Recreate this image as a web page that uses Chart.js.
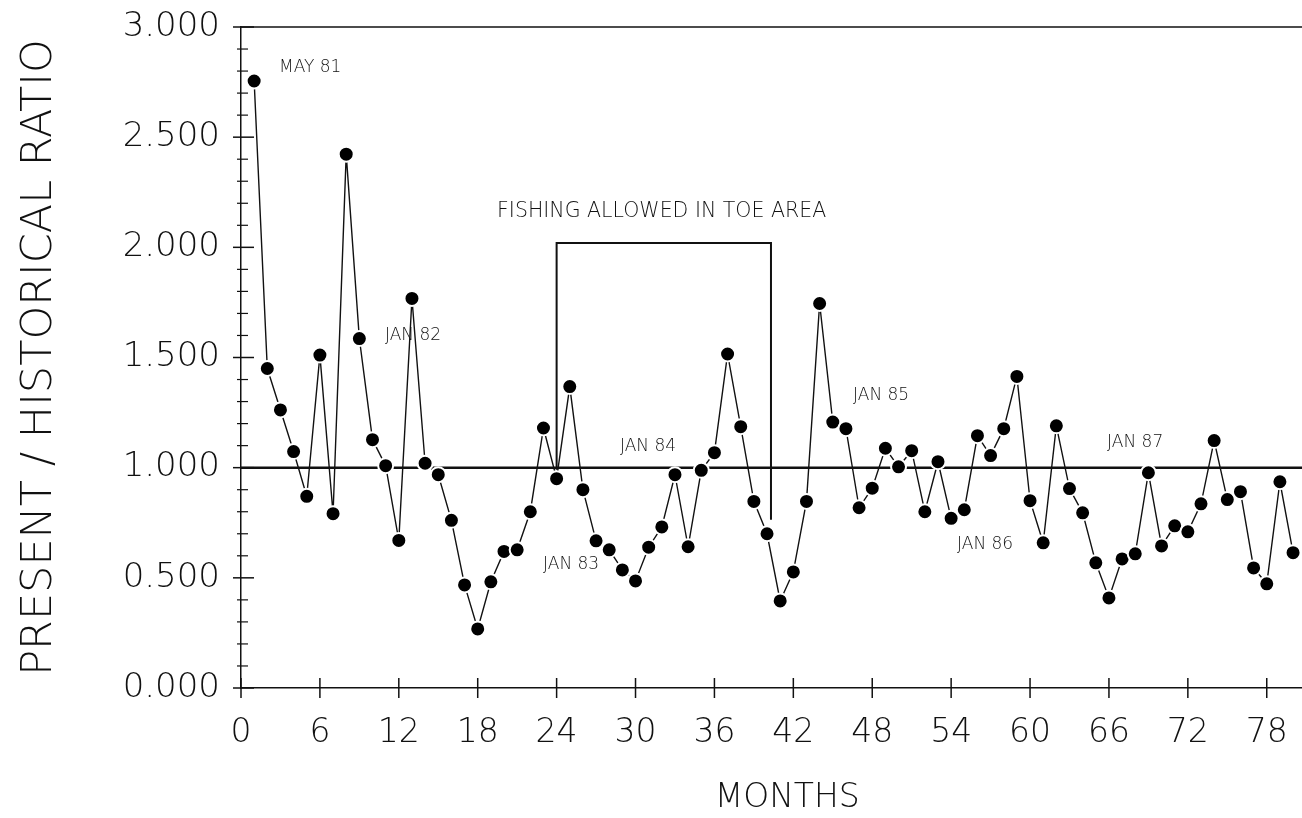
<!DOCTYPE html>
<html><head><meta charset="utf-8">
<script src="https://cdn.jsdelivr.net/npm/chart.js@4"></script>
<style>html,body{margin:0;padding:0;background:#fff;}#wrap{width:1302px;height:818px;}</style>
</head><body><div id="wrap"><canvas id="c" width="1302" height="818"></canvas></div>
<script>
// ---- data ----
const months = [1,2,3,4,5,6,7,8,9,10,11,12,13,14,15,16,17,18,19,20,21,22,23,24,25,26,27,28,29,30,31,32,33,34,35,36,37,38,39,40,41,42,43,44,45,46,47,48,49,50,51,52,53,54,55,56,57,58,59,60,61,62,63,64,65,66,67,68,69,70,71,72,73,74,75,76,77,78,79,80];
const ratios = [2.755,1.45,1.262,1.073,0.87,1.511,0.791,2.423,1.586,1.127,
  1.009,0.67,1.768,1.02,0.968,0.761,0.468,0.268,0.482,0.62,
  0.627,0.80,1.18,0.95,1.368,0.90,0.668,0.627,0.536,0.486,
  0.639,0.731,0.968,0.641,0.988,1.068,1.516,1.186,0.847,0.70,
  0.395,0.527,0.847,1.745,1.207,1.177,0.818,0.907,1.088,1.004,
  1.077,0.80,1.027,0.77,0.809,1.145,1.055,1.177,1.414,0.85,
  0.659,1.19,0.905,0.795,0.568,0.409,0.586,0.609,0.977,0.645,
  0.736,0.709,0.836,1.123,0.855,0.891,0.545,0.473,0.936,0.614];
const xTickValues = [0,6,12,18,24,30,36,42,48,54,60,66,72,78];
const yTickValues = [0,0.5,1,1.5,2,2.5,3];
const yMinorValues = [0.1,0.2,0.3,0.4,0.6,0.7,0.8,0.9,1.1,1.2,1.3,1.4,1.6,1.7,1.8,1.9,2.1,2.2,2.3,2.4,2.6,2.7,2.8,2.9];
const xMin = 0, xMax = 80.68, yMin = 0, yMax = 3;
const refLineX = [0, 80.68];
const refLineY = [1, 1];
const boxX = [24, 24, 40.3, 40.3];
const boxY = [0.99, 2.02, 2.02, 0.764];
const noteTexts = ['MAY 81','JAN 82','JAN 83','JAN 84','JAN 85','JAN 86','JAN 87','FISHING ALLOWED IN TOE AREA'];
const noteX = [2.89, 10.95, 22.97, 28.82, 46.54, 54.45, 65.86, 19.47];
const noteY = [2.815, 1.60, 0.559, 1.095, 1.327, 0.65, 1.114, 2.16];

const FONT = "'DejaVu Sans', 'Liberation Sans', sans-serif";
const INK = '#111';

const toPts = (xs, ys) => xs.map((x, i) => ({x: x, y: ys[i]}));

const extras = {
  id: 'extras',
  afterDatasetsDraw(chart) {
    const ctx = chart.ctx, xs = chart.scales.x, ys = chart.scales.y, a = chart.chartArea;
    ctx.save();
    ctx.strokeStyle = INK;
    // top frame line
    ctx.lineWidth = 1.5;
    ctx.beginPath(); ctx.moveTo(a.left, a.top); ctx.lineTo(a.right, a.top); ctx.stroke();
    // y ticks (crossing the axis)
    const x0 = xs.getPixelForValue(xMin);
    ctx.lineWidth = 1.5;
    yTickValues.forEach(v => { const p = ys.getPixelForValue(v); ctx.beginPath(); ctx.moveTo(x0 - 8, p); ctx.lineTo(x0 + 13, p); ctx.stroke(); });
    ctx.lineWidth = 1.2;
    yMinorValues.forEach(v => { const p = ys.getPixelForValue(v); ctx.beginPath(); ctx.moveTo(x0 - 4, p); ctx.lineTo(x0 + 7, p); ctx.stroke(); });
    // x ticks
    const y0 = ys.getPixelForValue(yMin);
    ctx.lineWidth = 1.5;
    xTickValues.forEach(v => { const p = xs.getPixelForValue(v); ctx.beginPath(); ctx.moveTo(p, y0 - 10); ctx.lineTo(p, y0 + 10); ctx.stroke(); });
    // notes
    ctx.fillStyle = INK;
    ctx.textBaseline = 'middle';
    ctx.textAlign = 'left';
    noteTexts.forEach((t, i) => {
      ctx.font = (i === 7 ? '200 20.5px ' : '200 17px ') + FONT;
      ctx.fillText(t, xs.getPixelForValue(noteX[i]), ys.getPixelForValue(noteY[i]));
    });
    ctx.restore();
  }
};

new Chart(document.getElementById('c'), {
  type: 'scatter',
  data: {
    datasets: [
      {
        data: toPts(months, ratios), showLine: true,
        borderColor: INK, borderWidth: 1.4,
        pointRadius: 7.5, pointBackgroundColor: '#000', pointBorderColor: '#fff', pointBorderWidth: 2,
        pointHoverRadius: 7.5, clip: false
      },
      { data: toPts(refLineX, refLineY), showLine: true, borderColor: INK, borderWidth: 2.5, pointRadius: 0 },
      { data: toPts(boxX, boxY), showLine: true, borderColor: INK, borderWidth: 2, pointRadius: 0 }
    ]
  },
  options: {
    responsive: false, animation: false,
    layout: { autoPadding: false, padding: { top: 27, right: 0, left: 0, bottom: 0 } },
    plugins: { legend: { display: false }, tooltip: { enabled: false } },
    scales: {
      x: {
        type: 'linear', min: xMin, max: xMax,
        grid: { display: false },
        border: { display: true, color: INK, width: 1.5 },
        afterBuildTicks: s => { s.ticks = xTickValues.map(v => ({value: v})); },
        afterFit: s => { s.height = 130; s.paddingLeft = 0; s.paddingRight = 0; },
        ticks: { color: INK, padding: 18, font: { family: FONT, size: 33, weight: '200' }, maxRotation: 0, autoSkip: false },
        title: { display: true, text: '   MONTHS', color: INK, font: { family: FONT, size: 33, weight: '200' }, padding: { top: 0, bottom: 0 } }
      },
      y: {
        type: 'linear', min: yMin, max: yMax,
        grid: { display: false },
        border: { display: true, color: INK, width: 1.5 },
        afterBuildTicks: s => { s.ticks = yTickValues.map(v => ({value: v})); },
        afterFit: s => { s.width = 241; s.paddingTop = 0; s.paddingBottom = 0; },
        ticks: { color: INK, padding: 13, font: { family: FONT, size: 34, weight: '200' }, callback: v => Number(v).toFixed(3) },
        title: { display: true, text: 'PRESENT / HISTORICAL RATIO', color: INK, font: { family: FONT, size: 43, weight: '200' }, padding: { top: 14, bottom: 0 } }
      }
    }
  },
  plugins: [extras]
});
</script></body></html>
